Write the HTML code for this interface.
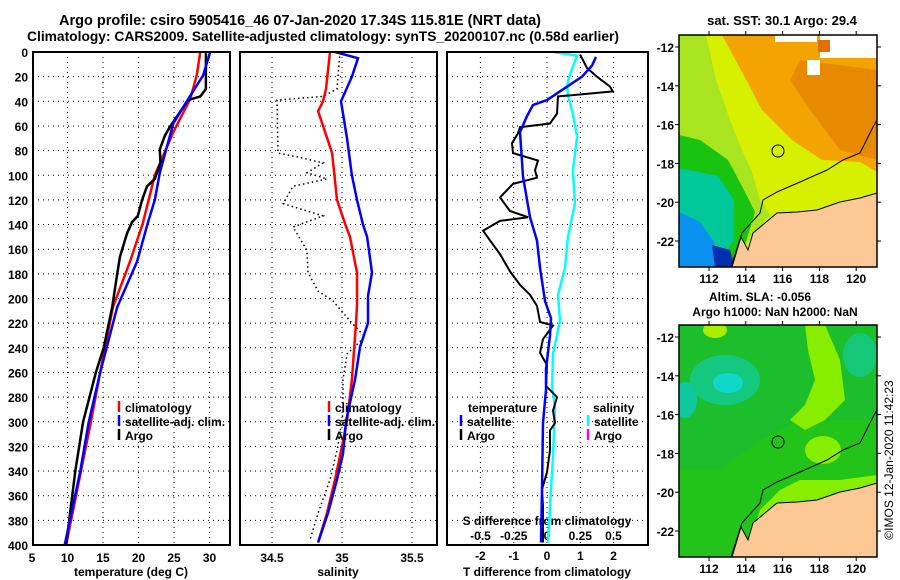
<!DOCTYPE html>
<html><head><meta charset="utf-8"><style>
body{margin:0;background:#fff;}
svg{display:block;font-family:"Liberation Sans",sans-serif;font-weight:bold;}
</style></head><body>
<svg id="s" width="900" height="580" viewBox="0 0 900 580" xmlns="http://www.w3.org/2000/svg">
<text x="300" y="25" font-size="14.5" text-anchor="middle">Argo profile: csiro 5905416_46 07-Jan-2020 17.34S 115.81E (NRT data)</text>
<text x="323" y="41" font-size="13.8" text-anchor="middle">Climatology: CARS2009. Satellite-adjusted climatology: synTS_20200107.nc (0.58d earlier)</text>

<!-- SST map -->
<g>
<clipPath id="c1"><rect x="679" y="35" width="198" height="232"/></clipPath>
<g clip-path="url(#c1)">
<rect x="679" y="35" width="198" height="232" fill="#f3a400"/>
<polygon points="800,60 877,70 877,160 840,150 810,110 790,80" fill="#e88a00"/>
<polygon points="679,35 722,35 742,72 762,110 792,140 822,160 860,162 877,172 877,267 679,267" fill="#d6f000"/>
<polygon points="679,35 706,35 716,80 730,120 742,150 752,172 760,200 770,215 745,245 679,267" fill="#a8e420"/>
<polygon points="679,135 700,140 728,160 744,190 755,212 745,245 730,267 679,267" fill="#18c410"/>
<polygon points="679,168 718,176 734,200 734,240 716,267 679,267" fill="#00c89a"/>
<polygon points="679,212 700,222 714,242 718,267 679,267" fill="#0a90ee"/>
<polygon points="712,245 730,250 735,267 715,267" fill="#0030b0"/>
<rect x="775" y="35" width="42" height="7" fill="#fff"/>
<rect x="820" y="35" width="57" height="23" fill="#fff"/>
<rect x="807" y="60" width="13" height="15" fill="#fff"/>
<rect x="818" y="40" width="12" height="12" fill="#e07000"/>
</g>
<polygon id="land1" points="732,267 741,237 748,250 753,233 777,213 797,212 817,210 840,202 860,198 877,193 877,267" fill="#fcc896" stroke="#000" stroke-width="1"/>
<polyline points="731,267 742,233 760,213 763,200 777,192 800,182 827,170 843,160 860,153 873,127 877,120" fill="none" stroke="#000" stroke-width="1"/>
<circle cx="778" cy="151" r="6" fill="none" stroke="#000" stroke-width="1"/>
<rect x="679" y="35" width="198" height="232" fill="none" stroke="#000" stroke-width="1.5"/>
<text x="782" y="25" font-size="13" text-anchor="middle">sat. SST: 30.1 Argo: 29.4</text>
</g>

<!-- SLA map -->
<g>
<clipPath id="c2"><rect x="679" y="325" width="198" height="232"/></clipPath>
<g clip-path="url(#c2)">
<rect x="679" y="325" width="198" height="232" fill="#22c41a"/>
<polygon points="679,325 877,325 877,420 840,420 800,420 760,440 720,470 679,470" fill="#1cbe2c"/>
<ellipse cx="725" cy="380" rx="35" ry="25" fill="#14c880"/>
<ellipse cx="728" cy="383" rx="15" ry="10" fill="#10d8c8"/>
<ellipse cx="685" cy="400" rx="12" ry="18" fill="#10c8a0"/>
<ellipse cx="860" cy="355" rx="17" ry="22" fill="#14c878"/>
<polygon points="805,325 825,325 840,360 845,400 825,420 805,430 790,420 805,405 815,380 808,350" fill="#88ee00"/>
<ellipse cx="823" cy="450" rx="18" ry="14" fill="#88ee00"/>
<ellipse cx="715" cy="330" rx="12" ry="8" fill="#a8f000"/>
<polygon points="745,557 760,510 780,490 800,480 840,480 877,475 877,500 820,510 760,535 750,557" fill="#88ee00"/>
</g>
<polygon points="732,557 741,527 748,540 753,523 777,503 797,502 817,500 840,492 860,488 877,483 877,557" fill="#fcc896" stroke="#000" stroke-width="1"/>
<polyline points="731,557 742,523 760,503 763,490 777,482 800,472 827,460 843,450 860,443 873,417 877,410" fill="none" stroke="#000" stroke-width="1"/>
<circle cx="778" cy="442" r="6" fill="none" stroke="#000" stroke-width="1"/>
<rect x="679" y="325" width="198" height="232" fill="none" stroke="#000" stroke-width="1.5"/>
<text x="760" y="301" font-size="12" text-anchor="middle">Altim. SLA: -0.056</text>
<text x="775" y="316" font-size="12" text-anchor="middle">Argo h1000: NaN h2000: NaN</text>
</g>
<text transform="translate(893,460) rotate(-90)" font-size="12" font-weight="normal" text-anchor="middle">©IMOS 12-Jan-2020 11:42:23</text>
<g id="dyn"></g>
</svg>
<script>
// ---- data (depth in m) ----
const yTicks=[0,20,40,60,80,100,120,140,160,180,200,220,240,260,280,300,320,340,360,380,400];
const tTicks=[5,10,15,20,25,30];
const sTicks=[34.5,35,35.5];
const dTicks=[-2,-1,0,1,2];
const sdTicks=[-0.5,-0.25,0,0.25,0.5];
const sdTickLabels=["-0.5","-0.25","0","0.25","0.5"];
const mapLon=[112,114,116,118,120];
const mapLat=[-12,-14,-16,-18,-20,-22];

const climTdepth=[0,19,38,65,100,139,170,207,260,300,340,400];
const climT=[28.7,28.2,27.3,24.9,22.3,20.6,18.8,16.4,14.6,13.3,11.9,9.8];
const satTdepth=[0,19,40,58,98,120,139,170,207,260,300,340,400];
const satT=[30.1,29.1,26.8,24.9,23.0,22.3,21.3,19.8,17.0,14.6,13.0,11.8,9.6];
const argoTdepth=[1,30,36,39,49,61,68,79,90,103,109,120,133,138,147,166,180,207,240,260,300,340,400];
const argoT=[29.5,29.5,28.7,27.0,25.8,24.4,23.7,23.0,23.1,22.3,21.2,20.5,19.9,19.1,18.4,17.4,17.0,16.3,15.1,14.0,12.2,11.1,9.8];

const climSdepth=[0,30,40,48,72,82,120,139,150,179,206,220,266,299,320,347,374,398];
const climS=[34.914,34.886,34.864,34.829,34.9,34.929,34.964,35.021,35.057,35.107,35.107,35.1,35.071,35.036,35.0,34.95,34.893,34.829];
const satSdepth=[0,5,20,40,50,70,100,120,140,150,179,198,220,239,266,299,326,347,374,398];
const satS=[34.95,35.114,35.071,34.993,35.007,35.036,35.071,35.107,35.15,35.179,35.214,35.186,35.186,35.129,35.093,35.029,35.007,34.964,34.9,34.829];
const argoSdepth=[0,30,36,39,82,85,90,98,103,109,123,133,142,161,179,194,202,220,231,245,266,293,320,347,374,396];
const argoS=[34.986,34.964,34.864,34.536,34.543,34.679,34.864,34.75,34.893,34.65,34.579,34.864,34.65,34.75,34.757,34.829,34.936,35.071,35.164,35.036,35.007,35.007,34.971,34.914,34.829,34.771];

const satDTdepth=[4,11,20,39,43,52,65,101,134,153,175,202,216,230,257,274,301,355,398];
const satDT=[1.47,1.35,1.05,0,-0.42,-0.6,-0.81,-0.72,-0.51,-0.3,-0.21,-0.06,0.12,0.09,-0.03,-0.03,-0.12,-0.15,-0.18];
const argoDTdepth=[2,13,20,28,32,35,36,50,58,61,66,74,82,88,96,102,107,118,129,134,137,145,153,164,178,189,197,206,219,222,233,244,254,271,280,291,301,307,323,341,355,369,398];
const argoDT=[0.99,1.2,1.5,1.89,1.98,0.78,0.33,0.3,0.09,-0.81,-0.87,-1.05,-1.02,-0.27,-0.36,-0.3,-1.02,-1.41,-1.11,-0.57,-1.41,-1.92,-1.71,-1.41,-1.11,-0.81,-0.51,-0.3,-0.21,0.18,-0.12,-0.21,0,-0.03,0.3,0.18,0.24,0.09,0.09,0,-0.15,-0.12,-0.12];
const satDSdepth=[0,3,18,28,35,50,69,96,123,150,175,197,218,245,271,288,328,355,398];
const satDS=[0.045,0.226,0.173,0.15,0.158,0.195,0.226,0.195,0.21,0.158,0.135,0.083,0.098,0.045,0.038,0.06,0.045,0.03,0.008];

// ---- axes ----
const Y=d=>52+d*1.2325;
const XT=t=>32+(t-5)*7.1;
const XS=s=>272+(s-34.5)*140;
const XD=v=>547+v*33.3;
const XSD=v=>547+v*133;
const LON=l=>709+(l-112)*18.4;
const LAT1=l=>47+(-12-l)*19.4;
const LAT2=l=>337+(-12-l)*19.4;

const NS='http://www.w3.org/2000/svg';
const G=document.getElementById('dyn');
function mk(tag,at,parent){const e=document.createElementNS(NS,tag);for(const k in at)e.setAttribute(k,at[k]);(parent||G).appendChild(e);return e;}
function txt(x,y,s,size,anchor){const e=mk('text',{x:x,y:y,'font-size':size,'text-anchor':anchor||'middle'});e.textContent=s;return e;}

const panels=[{x0:33,x1:230,name:'temperature-panel'},{x0:240,x1:437,name:'salinity-panel'},{x0:447,x1:648,name:'difference-panel'}];
panels.forEach(p=>{
  yTicks.forEach(d=>{if(d>0&&d<400){
    const l=mk('line',{x1:p.x0,x2:p.x1,y1:Y(d),y2:Y(d),stroke:'#000','stroke-width':1,'stroke-dasharray':'1,4'});
    
    
  }});
});
function vgrid(vals,fn,p){vals.forEach(v=>{const x=fn(v);if(x>p.x0+2&&x<p.x1-2){
  const l=mk('line',{x1:x,x2:x,y1:52,y2:Y(400),stroke:'#000','stroke-width':1,'stroke-dasharray':'1,4'});
  
  
}});}
vgrid(tTicks,XT,panels[0]);vgrid(sTicks,XS,panels[1]);vgrid(dTicks,XD,panels[2]);

yTicks.forEach(d=>{
  const t=txt(28,Y(d)+5,String(d),12,'end');
  
  
});
tTicks.forEach((v,i)=>{const t=txt(XT(v),562,String(v),12);
  
  });
sTicks.forEach(v=>{const t=txt(XS(v),562,String(v),12);
  
  });
dTicks.forEach(v=>{const t=txt(XD(v),560,String(v),12);
  
  });
sdTicks.forEach((v,i)=>{const t=txt(XSD(v),540,sdTickLabels[i],12);
  
  });
let a=txt(131,576,'temperature (deg C)',12);
a=txt(338,576,'salinity',12);
a=txt(547,576,'T difference from climatology',12);
a=txt(547,525,'S difference from climatology',12);

// map ticks
mapLon.forEach(l=>{
  [[35,267,282],[325,557,572]].forEach(m=>{
    mk('line',{x1:LON(l),x2:LON(l),y1:m[0]-4,y2:m[0],stroke:'#000'});
    mk('line',{x1:LON(l),x2:LON(l),y1:m[1],y2:m[1]+4,stroke:'#000'});
    const t=txt(LON(l),m[2]+1,String(l),12);
    
    
  });
});
mapLat.forEach(l=>{
  [LAT1(l),LAT2(l)].forEach(y=>{
    mk('line',{x1:675,x2:679,y1:y,y2:y,stroke:'#000'});
    mk('line',{x1:877,x2:881,y1:y,y2:y,stroke:'#000'});
    const t=txt(674,y+5,String(l),12,'end');
    
    
  });
});

function line(depths,vals,fn,color,w,dash,name){
  const pts=depths.map((d,i)=>fn(vals[i]).toFixed(1)+','+Y(d).toFixed(1)).join(' ');
  const at={points:pts,fill:'none',stroke:color,'stroke-width':w};
  if(dash)at['stroke-dasharray']=dash;
  const e=mk('polyline',at);
  
  
}
line(climTdepth,climT,XT,'#f00',2.5,null,'climatology-temperature-line');
line(argoTdepth,argoT,XT,'#000',2.5,null,'argo-temperature-line');
line(satTdepth,satT,XT,'#00f',2.5,null,'satellite-temperature-line');
line(argoSdepth,argoS,XS,'#000',1.5,'1.5,3','argo-salinity-line');
line(climSdepth,climS,XS,'#f00',2.5,null,'climatology-salinity-line');
line(satSdepth,satS,XS,'#00f',2.5,null,'satellite-salinity-line');
line(satDSdepth,satDS,XSD,'#0ff',2.5,null,'satellite-s-diff-line');
line(argoDTdepth,argoDT,XD,'#000',2,null,'argo-t-diff-line');
line(satDTdepth,satDT,XD,'#00f',2.5,null,'satellite-t-diff-line');

panels.forEach(p=>{
  const r=mk('rect',{x:p.x0,y:52,width:p.x1-p.x0,height:Y(400)-52,fill:'none',stroke:'#000','stroke-width':2});
  
  
});

function legend(x,y,color,label,name){
  mk('line',{x1:x,x2:x,y1:y-6,y2:y+5,stroke:color,'stroke-width':2.5});
  const t=txt(x+6,y+5,label,12,'start');
  
  
}
legend(119,407,'#f00','climatology','legend-climatology');
legend(119,421,'#00f','satellite-adj. clim.','legend-satellite');
legend(119,435,'#000','Argo','legend-argo');
legend(329,407,'#f00','climatology','legend-climatology-s');
legend(329,421,'#00f','satellite-adj. clim.','legend-satellite-s');
legend(329,435,'#000','Argo','legend-argo-s');
a=txt(468,412,'temperature',12,'start');
legend(461,421,'#00f','satellite','legend-t-satellite');
legend(461,435,'#000','Argo','legend-t-argo');
a=txt(593,412,'salinity',12,'start');
legend(588,421,'#0ff','satellite','legend-s-satellite');
legend(588,435,'#f0f','Argo','legend-s-argo');
</script>
</body></html>
